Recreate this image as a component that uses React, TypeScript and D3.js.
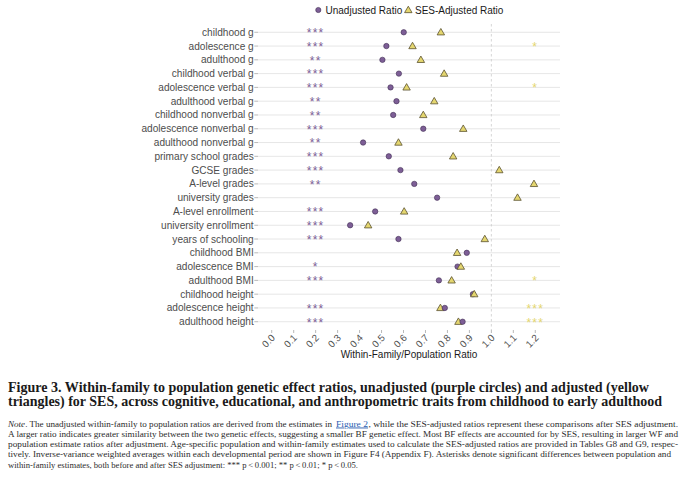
import React from 'react';
import * as d3 from 'd3';

const categories = [
  'childhood g', 'adolescence g', 'adulthood g',
  'childhood verbal g', 'adolescence verbal g', 'adulthood verbal g',
  'childhood nonverbal g', 'adolescence nonverbal g', 'adulthood nonverbal g',
  'primary school grades', 'GCSE grades', 'A-level grades', 'university grades',
  'A-level enrollment', 'university enrollment', 'years of schooling',
  'childhood BMI', 'adolescence BMI', 'adulthood BMI',
  'childhood height', 'adolescence height', 'adulthood height',
];

const unadjusted = [
  0.601, 0.522, 0.504,
  0.579, 0.541, 0.568,
  0.553, 0.690, 0.416,
  0.533, 0.586, 0.649, 0.753,
  0.471, 0.357, 0.577,
  0.888, 0.846, 0.761,
  0.916, 0.788, 0.869,
];

const sesAdjusted = [
  0.770, 0.641, 0.679,
  0.785, 0.614, 0.740,
  0.690, 0.872, 0.577,
  0.826, 1.036, 1.194, 1.119,
  0.603, 0.439, 0.970,
  0.844, 0.861, 0.819,
  0.922, 0.768, 0.850,
];

const unadjustedStars = [
  '***', '***', '**',
  '***', '***', '**',
  '**', '***', '**',
  '***', '***', '**', '',
  '***', '***', '***',
  '', '*', '***',
  '', '***', '***',
];

const adjustedStars = [
  '', '*', '',
  '', '*', '',
  '', '', '',
  '', '', '', '',
  '', '', '',
  '', '', '*',
  '', '***', '***',
];

const xTicks = [0, 0.1, 0.2, 0.3, 0.4, 0.5, 0.6, 0.7, 0.8, 0.9, 1.0, 1.1, 1.2];

const titleLines = [
  'Figure 3.  Within-family to population genetic effect ratios, unadjusted (purple circles) and adjusted (yellow',
  'triangles) for SES, across cognitive, educational, and anthropometric traits from childhood to early adulthood',
];

const noteLines = [
  'A larger ratio indicates greater similarity between the two genetic effects, suggesting a smaller BF genetic effect. Most BF effects are accounted for by SES, resulting in larger WF and',
  'population estimate ratios after adjustment. Age-specific population and within-family estimates used to calculate the SES-adjusted ratios are provided in Tables G8 and G9, respec-',
  'tively. Inverse-variance weighted averages within each developmental period are shown in Figure F4 (Appendix F). Asterisks denote significant differences between population and',
  'within-family estimates, both before and after SES adjustment: *** p\u2009<\u20090.001; ** p\u2009<\u20090.01; * p\u2009<\u20090.05.',
];
const noteWidths = [670, 670, 663, 350];

const PURPLE = '#7d5e96';
const YELLOW = '#e4d66f';
const sans = '"Liberation Sans", Arial, sans-serif';
const serif = '"Liberation Serif", "DejaVu Serif", serif';

export default function App() {
  const width = 690;
  const height = 487;

  const x = d3.scaleLinear().domain([-0.0625, 1.3125]).range([258, 560]);
  const y = d3.scalePoint<string>().domain(categories).range([24, 330]).padding(0.6);
  const tri = d3.symbol().type(d3.symbolTriangle).size(24)();
  const [x0, x1] = x.range();
  const [yTop, yBottom] = [24, 330];

  // draw the right-hand mark of each row last, as in the reference
  const rows = categories.map((c, i) => ({
    c,
    marks: [
      { kind: 'circle', v: unadjusted[i] },
      { kind: 'tri', v: sesAdjusted[i] },
    ].sort((a, b) => a.v - b.v),
  }));

  return (
    <svg width={width} height={height} style={{ position: 'absolute', left: 0, top: 0, background: '#fff' }}>
      {/* legend */}
      <g fontFamily={sans} fontSize={10} fill="#1a1a1a">
        <circle cx={318.3} cy={10} r={2.6} fill={PURPLE} stroke="#3f2d52" strokeWidth={0.6} />
        <text x={325.5} y={13.5}>Unadjusted Ratio</text>
        <path d={tri} transform="translate(408.3,10.5)" fill={YELLOW} stroke="#5a5230" strokeWidth={0.8} />
        <text x={415} y={13.5}>SES-Adjusted Ratio</text>
      </g>

      {/* grid */}
      {categories.map(c => (
        <line key={c} x1={x0} x2={x1} y1={y(c)} y2={y(c)} stroke="#e3e3e3" strokeWidth={0.9} />
      ))}
      <line x1={x(1)} x2={x(1)} y1={yTop} y2={yBottom} stroke="#c4c4c4" strokeWidth={0.7} strokeDasharray="2.5,2.5" />

      {/* y axis */}
      <g fontFamily={sans} fontSize={10.1} fill="#4d4d4d">
        {categories.map(c => (
          <g key={c}>
            <line x1={x0 - 3.7} x2={x0} y1={y(c)} y2={y(c)} stroke="#8a8a8a" strokeWidth={0.6} />
            <text x={x0 - 4.3} y={(y(c) ?? 0) + 3.5} textAnchor="end">{c}</text>
          </g>
        ))}
      </g>

      {/* x axis */}
      <g fontFamily={sans} fontSize={9.8} fill="#4d4d4d">
        {xTicks.map(t => (
          <g key={t}>
            <line x1={x(t)} x2={x(t)} y1={yBottom} y2={yBottom + 3} stroke="#8a8a8a" strokeWidth={0.6} />
            <text transform={`translate(${x(t) + 4},${yBottom + 8.5}) rotate(-45)`} textAnchor="end">{t.toFixed(1)}</text>
          </g>
        ))}
        <text x={(x0 + x1) / 2} y={358} textAnchor="middle" fontSize={10} fill="#1a1a1a">
          Within-Family/Population Ratio
        </text>
      </g>

      {/* significance stars */}
      <g fontFamily={sans} fontSize={12} textAnchor="middle">
        {categories.map((c, i) => (
          <g key={c}>
            {unadjustedStars[i] && (
              <text x={x(0.2)} y={(y(c) ?? 0) + 4.8} fill={PURPLE} letterSpacing={1.2}>{unadjustedStars[i]}</text>
            )}
            {adjustedStars[i] && (
              <text x={x(1.2)} y={(y(c) ?? 0) + 4.8} fill={YELLOW} letterSpacing={1.2}>{adjustedStars[i]}</text>
            )}
          </g>
        ))}
      </g>

      {/* points */}
      {rows.map(r => (
        <g key={r.c}>
          {r.marks.map(m =>
            m.kind === 'circle' ? (
              <circle key="c" cx={x(m.v)} cy={y(r.c)} r={2.7} fill={PURPLE} stroke="#3f2d52" strokeWidth={0.6} />
            ) : (
              <path key="t" d={tri} transform={`translate(${x(m.v)},${(y(r.c) ?? 0) + 0.5})`} fill={YELLOW} stroke="#5a5230" strokeWidth={0.8} />
            )
          )}
        </g>
      ))}

      {/* caption */}
      <g fontFamily={serif} fontWeight="bold" fontSize={13.6} fill="#1a1a1a">
        <text x={8} y={391.7} textLength={641} lengthAdjust="spacingAndGlyphs">{titleLines[0]}</text>
        <text x={8} y={405.8} textLength={654} lengthAdjust="spacingAndGlyphs">{titleLines[1]}</text>
      </g>
      <g fontFamily={serif} fontSize={9.1} fill="#2b2b2b">
        <text x={8} y={426.5} textLength={324} lengthAdjust="spacingAndGlyphs">
          <tspan fontStyle="italic">Note</tspan>. The unadjusted within-family to population ratios are derived from the estimates in
        </text>
        <text x={336} y={426.5} textLength={32} lengthAdjust="spacingAndGlyphs" fill="#2a5db0" textDecoration="underline">Figure 2</text>
        <text x={368.5} y={426.5} textLength={309.5} lengthAdjust="spacingAndGlyphs">
          , while the SES-adjusted ratios represent these comparisons after SES adjustment.
        </text>
        {noteLines.map((l, i) => (
          <text key={i} x={8} y={436.8 + i * 10.3} textLength={noteWidths[i]} lengthAdjust="spacingAndGlyphs">{l}</text>
        ))}
      </g>
    </svg>
  );
}
